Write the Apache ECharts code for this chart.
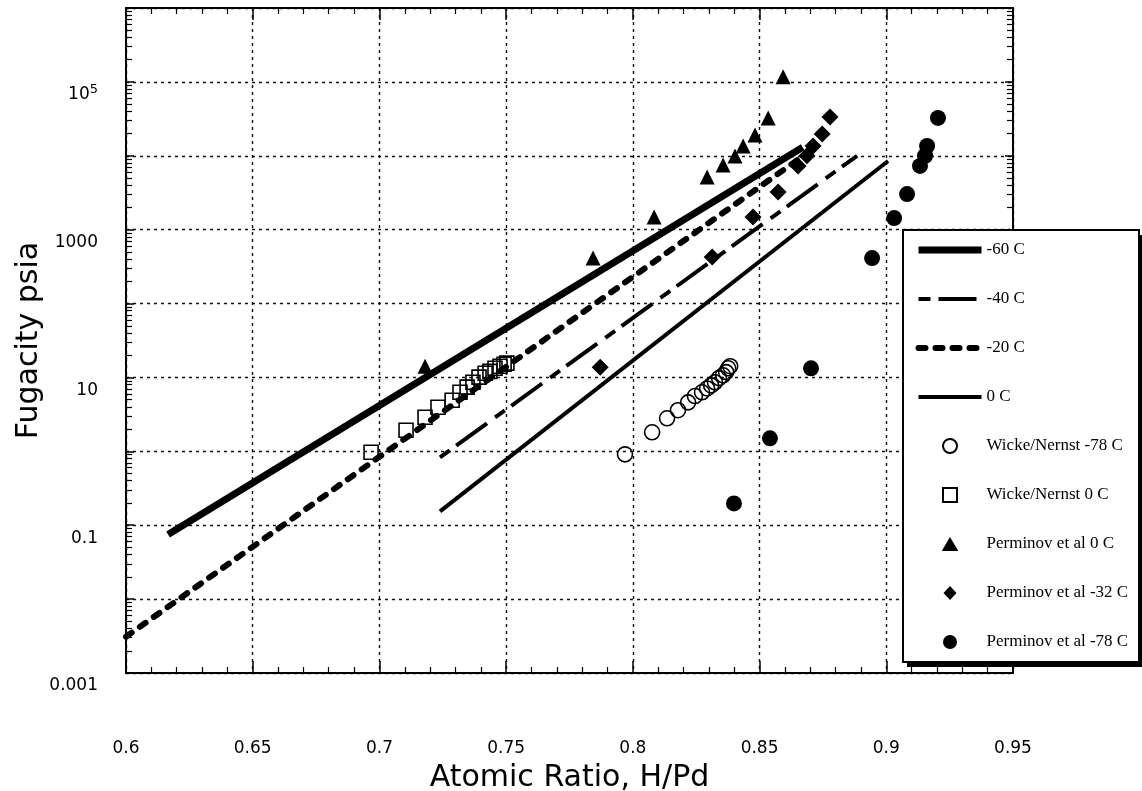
<!DOCTYPE html>
<html>
<head>
<meta charset="utf-8">
<script src="https://cdn.jsdelivr.net/npm/echarts@6/dist/echarts.min.js"></script>
<style>
html,body{margin:0;padding:0;background:#fff;}
#chart{width:1142px;height:791px;}
</style>
</head>
<body>
<div id="chart"></div>
<script>
// Axis ticks
const xTickLabels = ['0.6', '0.65', '0.7', '0.75', '0.8', '0.85', '0.9', '0.95'];
const yTickValues = [0.001, 0.1, 10, 1000, 100000];
const yTickLabels = ['0.001', '0.1', '10', '1000', '10^5'];

// Model lines (straight in log space, defined by end points)
const neg60X = [0.6166, 0.867];
const neg60Y = [0.075, 13000];
const neg40X = [0.7239, 0.8885];
const neg40Y = [0.83, 10000];
const neg20X = [0.6, 0.869];
const neg20Y = [0.0031, 11000];
const zeroX = [0.7239, 0.9007];
const zeroY = [0.154, 8500];

// Wicke/Nernst -78 C
const wn78X = [0.7969, 0.8076, 0.8135, 0.8178, 0.8218, 0.8245, 0.8273, 0.8293, 0.8309, 0.8324, 0.8340, 0.8356, 0.8368, 0.8376, 0.8384];
const wn78Y = [0.91, 1.81, 2.8, 3.6, 4.6, 5.6, 6.3, 7.1, 7.8, 8.6, 9.8, 10.7, 11.8, 13.3, 14.2];
// Wicke/Nernst 0 C
const wn0X = [0.6967, 0.7105, 0.7180, 0.7231, 0.7287, 0.7318, 0.7346, 0.7369, 0.7393, 0.7417, 0.7436, 0.7456, 0.7476, 0.7492, 0.7503];
const wn0Y = [0.97, 1.93, 2.89, 3.95, 4.91, 6.3, 7.4, 8.6, 10.1, 11.4, 12.1, 13.3, 14.2, 15.1, 15.6];
// Perminov et al 0 C
const pm0X = [0.718, 0.7843, 0.8084, 0.8293, 0.8356, 0.8403, 0.8435, 0.8482, 0.8534, 0.8593];
const pm0Y = [14.2, 412, 1480, 5160, 7500, 9930, 13600, 19100, 32500, 117000];
// Perminov et al -32 C
const pm32X = [0.7871, 0.8313, 0.8474, 0.8573, 0.8652, 0.8687, 0.8711, 0.8747, 0.8778];
const pm32Y = [13.7, 425, 1480, 3240, 7270, 10000, 13600, 19700, 33600];
// Perminov et al -78 C
const pm78X = [0.8399, 0.8541, 0.8703, 0.8944, 0.9031, 0.9082, 0.9133, 0.9153, 0.9161, 0.9204];
const pm78Y = [0.197, 1.5, 13.3, 412, 1435, 3030, 7280, 10000, 13600, 32500];

function pairs(xs, ys) { return xs.map((x, i) => [x, ys[i]]); }

const chart = echarts.init(document.getElementById('chart'), null, {renderer: 'canvas'});

const sansFont = 'DejaVu Sans';
const serifFont = 'Liberation Serif';

function yFormatter(v) {
  for (let i = 0; i < yTickValues.length; i++) {
    if (Math.abs(Math.log10(v) - Math.log10(yTickValues[i])) < 1e-6) {
      const lbl = yTickLabels[i];
      if (lbl.indexOf('^') >= 0) {
        const p = lbl.split('^');
        return '{b|' + p[0] + '}{s|' + p[1] + '}';
      }
      return '{b|' + lbl + '}';
    }
  }
  return '';
}

function xFormatter(v) {
  const idx = Math.round((v - 0.6) / 0.05);
  return xTickLabels[idx] !== undefined ? xTickLabels[idx] : '';
}

const gridLine = {show: true, lineStyle: {color: '#111', type: [3, 4], width: 1.4}};
const axLine = {show: true, onZero: false, lineStyle: {color: '#000', width: 2}};

const xCommon = {
  type: 'value', min: 0.6, max: 0.95, interval: 0.05,
  axisLine: axLine,
  axisTick: {show: true, inside: true, length: 12, lineStyle: {color: '#000', width: 1.5}},
  minorTick: {show: true, splitNumber: 5, length: 6, lineStyle: {color: '#000', width: 1.2}}
};
const yCommon = {
  type: 'log', logBase: 10, min: 0.001, max: 1000000, interval: 1,
  axisLine: axLine,
  axisTick: {show: true, inside: true, length: 8, lineStyle: {color: '#000', width: 1.5}},
  minorTick: {show: true, splitNumber: 9, length: 6, lineStyle: {color: '#000', width: 1.2}}
};

const option = {
  backgroundColor: '#fff',
  animation: false,
  grid: {left: 126, right: 129, top: 8, bottom: 118, containLabel: false, outerBoundsMode: 'none'},
  xAxis: [
    Object.assign({}, xCommon, {
      position: 'bottom',
      splitLine: gridLine,
      axisLabel: {margin: 67, fontSize: 17, fontFamily: sansFont, color: '#000', formatter: xFormatter},
      name: 'Atomic Ratio, H/Pd', nameLocation: 'middle', nameGap: 90, nameMoveOverlap: false,
      nameTextStyle: {fontSize: 30, fontFamily: sansFont, color: '#000'}
    }),
    Object.assign({}, xCommon, {
      position: 'top', axisLabel: {show: false}, splitLine: {show: false}
    })
  ],
  yAxis: [
    Object.assign({}, yCommon, {
      position: 'left',
      splitLine: gridLine,
      axisLabel: {
        margin: 28, color: '#000', formatter: yFormatter, padding: [26, 0, 0, 0],
        rich: {
          b: {fontSize: 17, fontFamily: sansFont, color: '#000', lineHeight: 24},
          s: {fontSize: 13, fontFamily: sansFont, color: '#000', lineHeight: 13, verticalAlign: 'top'}
        }
      },
      name: 'Fugacity psia', nameLocation: 'middle', nameGap: 82, nameRotate: 90, nameMoveOverlap: false,
      nameTextStyle: {fontSize: 30, fontFamily: sansFont, color: '#000'}
    }),
    Object.assign({}, yCommon, {
      position: 'right', axisLabel: {show: false}, splitLine: {show: false}
    })
  ],
  graphic: [
    {type: 'rect', z: 5, silent: true, shape: {x: 907, y: 235, width: 236, height: 432}, style: {fill: '#000'}},
    {type: 'rect', z: 6, silent: true, shape: {x: 903, y: 230, width: 236, height: 432}, style: {fill: '#fff', stroke: '#000', lineWidth: 2}}
  ],
  legend: {
    orient: 'vertical', left: 903, top: 230, z: 10,
    padding: [10, 15, 9, 12],
    itemWidth: 63, itemHeight: 14, itemGap: 29,
    symbolKeepAspect: true,
    selectedMode: false,
    textStyle: {fontFamily: serifFont, fontSize: 17, color: '#000', lineHeight: 20},
    lineStyle: {width: 'inherit'},
    data: [
      {name: '-60 C'}, {name: '-40 C'}, {name: '-20 C'}, {name: '0 C'},
      {name: 'Wicke/Nernst -78 C', icon: 'circle'},
      {name: 'Wicke/Nernst 0 C', icon: 'path://M0,0L12,0L12,12L0,12Z'},
      {name: 'Perminov et al 0 C', icon: 'path://M6,0L12.5,11L-0.5,11Z'},
      {name: 'Perminov et al -32 C', icon: 'path://M6.5,0L13,7L6.5,14L0,7Z'},
      {name: 'Perminov et al -78 C', icon: 'circle'}
    ]
  },
  series: [
    {name: '-60 C', type: 'line', data: pairs(neg60X, neg60Y), symbol: 'none',
     lineStyle: {color: '#000', width: 7, type: 'solid'}, itemStyle: {color: 'rgba(0,0,0,0)'}},
    {name: '-40 C', type: 'line', data: pairs(neg40X, neg40Y), symbol: 'none',
     lineStyle: {color: '#000', width: 4, type: [12, 8, 38, 10], cap: 'butt'}, itemStyle: {color: 'rgba(0,0,0,0)'}},
    {name: '-20 C', type: 'line', data: pairs(neg20X, neg20Y), symbol: 'none',
     lineStyle: {color: '#000', width: 6, type: [7, 10], cap: 'round'}, itemStyle: {color: 'rgba(0,0,0,0)'}},
    {name: '0 C', type: 'line', data: pairs(zeroX, zeroY), symbol: 'none',
     lineStyle: {color: '#000', width: 4, type: 'solid'}, itemStyle: {color: 'rgba(0,0,0,0)'}},
    {name: 'Wicke/Nernst -78 C', type: 'scatter', data: pairs(wn78X, wn78Y), symbol: 'circle', symbolSize: 15,
     itemStyle: {color: 'rgba(255,255,255,0)', borderColor: '#000', borderWidth: 1.6, opacity: 1}},
    {name: 'Wicke/Nernst 0 C', type: 'scatter', data: pairs(wn0X, wn0Y), symbol: 'rect', symbolSize: 14,
     itemStyle: {color: 'rgba(255,255,255,0)', borderColor: '#000', borderWidth: 1.6, opacity: 1}},
    {name: 'Perminov et al 0 C', type: 'scatter', data: pairs(pm0X, pm0Y), symbol: 'triangle', symbolSize: 15,
     itemStyle: {color: '#000', opacity: 1}},
    {name: 'Perminov et al -32 C', type: 'scatter', data: pairs(pm32X, pm32Y), symbol: 'diamond', symbolSize: 17,
     itemStyle: {color: '#000', opacity: 1}},
    {name: 'Perminov et al -78 C', type: 'scatter', data: pairs(pm78X, pm78Y), symbol: 'circle', symbolSize: 16,
     itemStyle: {color: '#000', opacity: 1}}
  ]
};

chart.setOption(option);
</script>
</body>
</html>
